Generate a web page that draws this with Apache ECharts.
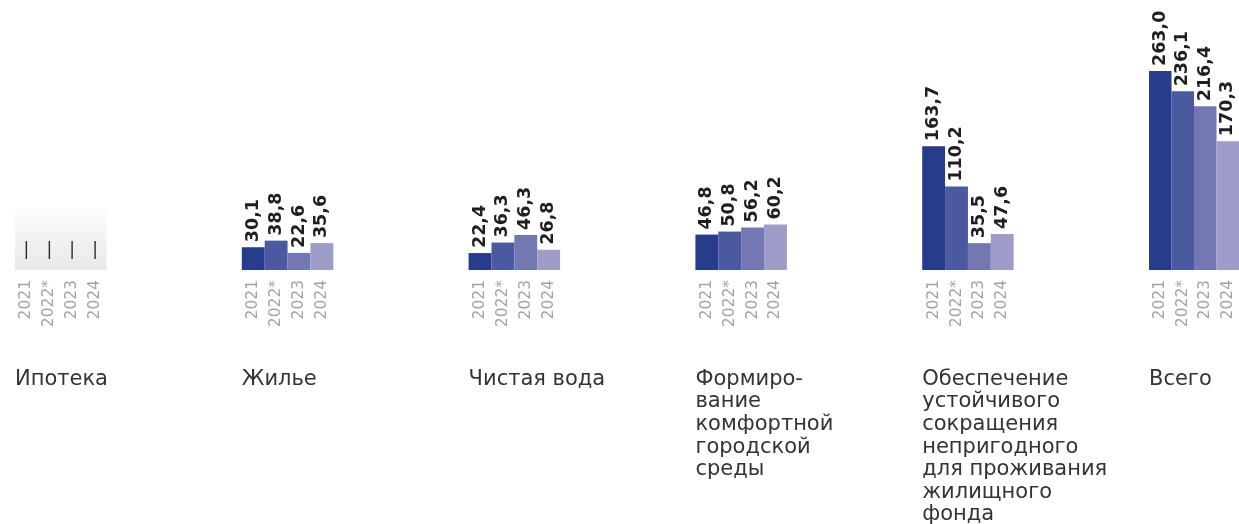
<!DOCTYPE html>
<html><head><meta charset="utf-8">
<script src="https://cdn.jsdelivr.net/npm/echarts@6/dist/echarts.min.js"></script>
<style>html,body{margin:0;background:#fff}#c{width:1239px;height:524px}</style>
</head><body><div id="c"></div>
<script>
const years = ['2021', '2022*', '2023', '2024'];
const groups = [
  'Ипотека',
  'Жилье',
  'Чистая вода',
  'Формиро-\nвание\nкомфортной\nгородской\nсреды',
  'Обеспечение\nустойчивого\nсокращения\nнепригодного\nдля проживания\nжилищного\nфонда',
  'Всего'
];
const mortgage = [null, null, null, null]; // no data (shown as dashes)
const housing = [30.1, 38.8, 22.6, 35.6];
const water = [22.4, 36.3, 46.3, 26.8];
const urban = [46.8, 50.8, 56.2, 60.2];
const unfit = [163.7, 110.2, 35.5, 47.6];
const total = [263.0, 236.1, 216.4, 170.3];
const seriesData = [mortgage, housing, water, urban, unfit, total];
const barColors = ['#273c8a', '#4b5a9e', '#7478b2', '#9e9cc9'];

const FONT = 'DejaVu Sans';
const grids = [], xAxes = [], yAxes = [], series = [], titles = [];
const step = 226.8, left0 = 15, gw = 91.5;

groups.forEach((name, i) => {
  const left = left0 + step * i;
  const g = {left: left, width: gw, top: 43, bottom: 254, containLabel: false, borderWidth: 0};
  if (i === 0) {
    g.show = true;
    g.borderWidth = 0;
    g.backgroundColor = new echarts.graphic.LinearGradient(0, 0, 0, 1, [
      {offset: 0, color: '#ffffff'}, {offset: 0.71, color: '#ffffff'}, {offset: 1, color: '#e7e7e7'}
    ]);
  }
  grids.push(g);
  xAxes.push({
    type: 'category', gridIndex: i, data: years,
    axisLine: {show: false}, axisTick: {show: false},
    axisLabel: {rotate: 90, color: '#a3a3a3', fontFamily: FONT, fontSize: 15.5, margin: 10, interval: 0}
  });
  yAxes.push({type: 'value', gridIndex: i, min: 0, max: 300, show: false, splitLine: {show: false}});
  const raw = seriesData[i];
  series.push({
    type: 'bar', xAxisIndex: i, yAxisIndex: i,
    barCategoryGap: 0,
    data: raw.map((v, k) => ({
      value: v == null ? 0 : v,
      itemStyle: {color: barColors[k]},
      label: v == null
        ? {rotate: 0, fontSize: 17, fontWeight: 'normal', color: '#2a2a2a', distance: 11, align: 'center', verticalAlign: 'bottom'}
        : {}
    })),
    label: {
      show: true, position: 'top', rotate: 90, align: 'left', verticalAlign: 'middle',
      distance: 5, fontFamily: FONT, fontWeight: 'bold', fontSize: 17.5, color: '#1f1f1f',
      formatter: p => raw[p.dataIndex] == null ? '|' : raw[p.dataIndex].toFixed(1).replace('.', ',')
    },
    emphasis: {disabled: true},
    animation: false
  });
  titles.push({
    text: name, left: left, top: 368, padding: 0,
    textStyle: {fontFamily: FONT, fontSize: 21, fontWeight: 'normal', color: '#333', lineHeight: 22.6}
  });
});

const chart = echarts.init(document.getElementById('c'));
chart.setOption({
  animation: false,
  backgroundColor: '#fff',
  title: titles,
  grid: grids, xAxis: xAxes, yAxis: yAxes, series: series
});
</script></body></html>
